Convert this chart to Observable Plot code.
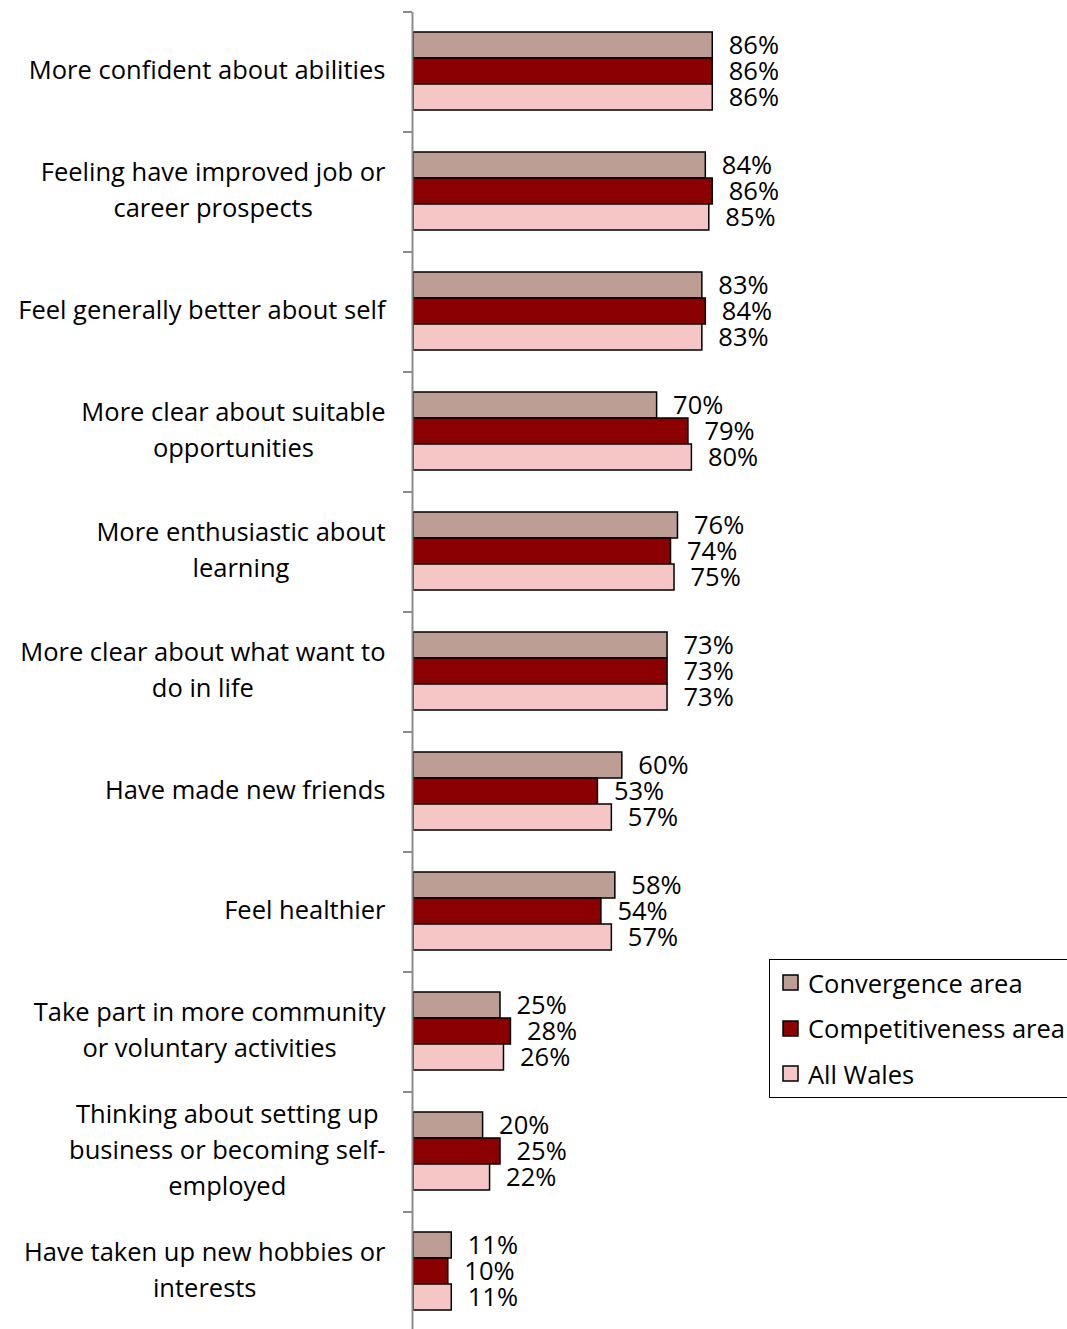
<!DOCTYPE html>
<html><head><meta charset="utf-8">
<script src="https://cdn.jsdelivr.net/npm/d3@7"></script>
<script src="https://cdn.jsdelivr.net/npm/@observablehq/plot@0.6"></script>
<style>
html,body{margin:0;padding:0;background:#fff;overflow:hidden;}
#wrap{position:relative;width:1067px;height:1329px;overflow:hidden;}
#legend{position:absolute;left:769px;top:959px;width:330px;border:1.5px solid #000;box-sizing:border-box;padding:0 0 0 13px;background:#fff;}
#legend .lg-swatches{color:#000;margin:0;}
#legend .lg-swatch{height:45.5px;padding:0;margin:0;display:flex;align-items:center;}
#legend .lg-swatch > svg{margin-right:10px;overflow:visible;}
#legend .lg-swatch rect{stroke:#000;stroke-width:1.5px;}
#legend .lg-swatch-label{overflow:visible;}
</style></head><body><div id="wrap"></div>
<script>
// ---- data ----
const categories = [
  "More confident about abilities",
  "Feeling have improved job or\ncareer prospects",
  "Feel generally better about self",
  "More clear about suitable\nopportunities",
  "More enthusiastic about\nlearning",
  "More clear about what want to\ndo in life",
  "Have made new friends",
  "Feel healthier",
  "Take part in more community\nor voluntary activities",
  "Thinking about setting up\nbusiness or becoming self-\nemployed",
  "Have taken up new hobbies or\ninterests"
];
const series = ["Convergence area", "Competitiveness area", "All Wales"];
const convergence     = [86, 84, 83, 70, 76, 73, 60, 58, 25, 20, 11];
const competitiveness = [86, 86, 84, 79, 74, 73, 53, 54, 28, 25, 10];
const allWales        = [86, 85, 83, 80, 75, 73, 57, 57, 26, 22, 11];
const colors = ["#bc9e94", "#8b0000", "#f6c6c6"];

const values = [convergence, competitiveness, allWales];
const data = [];
categories.forEach((c, i) => series.forEach((s, j) => data.push({cat: c, series: s, value: values[j][i]})));

// ---- layout ----
const FONT = "Open Sans";
const W = 1067, H = 1329;
const ML = 413, MR = 306, MT = 10, MB = -4;
const xMax = 100;
const pxPerUnit = (W - ML - MR) / xMax;
const labelRight = 385;

const ctx = document.createElement("canvas").getContext("2d");
ctx.font = `24px "${FONT}"`;
// fit the font size to the reference width of the first label (360px)
const FS = Math.round(24 * 360 / ctx.measureText(categories[0]).width * 2) / 2;
ctx.font = `${FS}px "${FONT}"`;
const blockWidth = s => Math.max(...s.split("\n").map(l => ctx.measureText(l).width));
const labelData = categories.map(c => ({cat: c, x: (labelRight - blockWidth(c) / 2 - ML) / pxPerUnit}));

const chart = Plot.plot({
  width: W, height: H,
  marginLeft: ML, marginRight: MR, marginTop: MT, marginBottom: MB,
  style: {fontFamily: `"${FONT}"`, fontSize: FS + "px", color: "#000", background: "#fff", overflow: "visible"},
  x: {domain: [0, xMax], axis: null},
  fy: {domain: categories, padding: 0, axis: null},
  y: {domain: series, paddingInner: 0, paddingOuter: 0.74, align: 0.47, axis: null},
  color: {domain: series, range: colors},
  marks: [
    Plot.barX(data, {fy: "cat", y: "series", x: "value", fill: "series", stroke: "#000", strokeWidth: 1.5}),
    Plot.ruleX([0], {stroke: "#8c8c8c", strokeWidth: 2, dx: -1}),
    Plot.text(data, {fy: "cat", y: "series", x: "value", text: d => d.value + "%", textAnchor: "start", dx: 16, dy: 0, fontSize: FS, fill: "#000"}),
    Plot.text(labelData, {fy: "cat", x: "x", text: "cat", textAnchor: "middle", lineAnchor: "middle", lineHeight: 36 / FS, dy: -5, fontSize: FS, fill: "#000"})
  ]
});

// category boundary ticks on the y axis
const fy = chart.scale("fy");
const x0 = chart.scale("x").apply(0) - 1;
const g = d3.select(chart).append("g").attr("stroke", "#8c8c8c").attr("stroke-width", 2);
categories.forEach(c => {
  const y = fy.apply(c);
  g.append("line").attr("x1", x0 - 9).attr("x2", x0).attr("y1", y).attr("y2", y);
});

const wrap = document.getElementById("wrap");
wrap.appendChild(chart);
const lg = document.createElement("div");
lg.id = "legend";
const leg = chart.legend("color", {columns: 1, className: "lg", swatchSize: 15});
leg.style.fontFamily = `"${FONT}"`;
leg.style.fontSize = FS + "px";
lg.appendChild(leg);
wrap.appendChild(lg);
</script>
</body></html>
